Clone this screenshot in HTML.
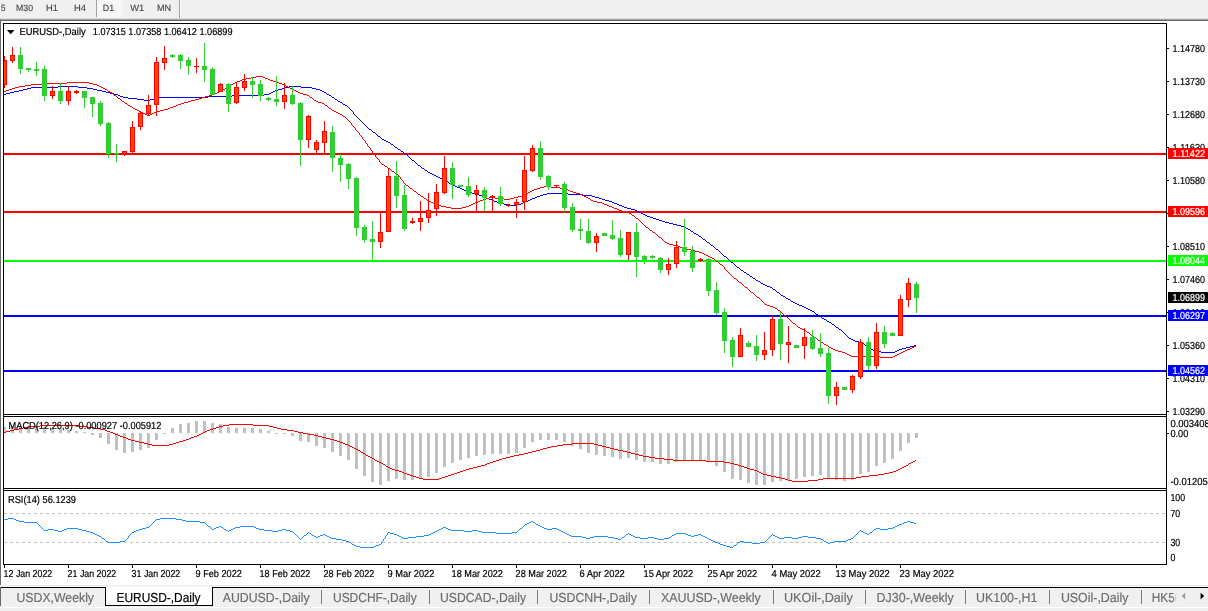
<!DOCTYPE html>
<html lang="en"><head><meta charset="utf-8"><title>EURUSD-,Daily</title>
<style>
html,body{margin:0;padding:0;background:#fff;overflow:hidden}
body{width:1208px;height:611px;position:relative;font-family:"Liberation Sans",sans-serif}
svg{position:absolute;left:0;top:0;display:block}
text{text-rendering:geometricPrecision}
.s{font-family:"Liberation Sans",sans-serif;font-size:10.2px;fill:#000;stroke:#000;stroke-width:.2px}
.t{font-family:"Liberation Sans",sans-serif;font-size:13.1px;fill:#6e6e6e;stroke:#6e6e6e;stroke-width:.2px}
.tb{font-family:"Liberation Sans",sans-serif;font-size:9px;fill:#4a4a4a;stroke:#4a4a4a;stroke-width:.15px}
</style></head><body>
<svg width="1208" height="611" viewBox="0 0 1208 611">
<g shape-rendering="crispEdges">
<rect x="0" y="0" width="1208" height="611" fill="#ffffff"/>
<rect x="0" y="0" width="1208" height="18" fill="#f0f0f0"/>
<rect x="0" y="18" width="1208" height="1" fill="#dedede"/>
<rect x="0" y="19" width="1208" height="1" fill="#a0a0a0"/>
<rect x="0" y="20" width="1208" height="1" fill="#696969"/>
<rect x="97" y="0" width="25" height="17" fill="#f7f7f7"/>
<rect x="96" y="0" width="1" height="17" fill="#a0a0a0"/>
<rect x="179" y="0" width="1" height="18" fill="#a0a0a0"/>
<rect x="180" y="0" width="1" height="18" fill="#ffffff"/>
<rect x="0" y="21" width="1" height="564" fill="#696969"/>
<rect x="0" y="585" width="1208" height="26" fill="#f0f0f0"/>
<rect x="0" y="585" width="1208" height="1" fill="#ebebeb"/>
<rect x="0" y="586" width="1208" height="1" fill="#f8f8f8"/>
<rect x="0" y="607" width="1208" height="1" fill="#ffffff"/>
</g>
<g shape-rendering="crispEdges" fill="#000">
<rect x="3" y="23" width="1164" height="1"/>
<rect x="3" y="23" width="1" height="542"/>
<rect x="1166" y="23" width="1" height="542"/>
<rect x="3" y="414" width="1164" height="1"/>
<rect x="3" y="416" width="1164" height="1"/>
<rect x="3" y="488" width="1164" height="1"/>
<rect x="3" y="490" width="1164" height="1"/>
<rect x="3" y="564" width="1164" height="1"/>
<rect x="1167" y="48" width="2" height="1"/>
<rect x="1167" y="81" width="2" height="1"/>
<rect x="1167" y="114" width="2" height="1"/>
<rect x="1167" y="147" width="2" height="1"/>
<rect x="1167" y="180" width="2" height="1"/>
<rect x="1167" y="213" width="2" height="1"/>
<rect x="1167" y="246" width="2" height="1"/>
<rect x="1167" y="279" width="2" height="1"/>
<rect x="1167" y="312" width="2" height="1"/>
<rect x="1167" y="345" width="2" height="1"/>
<rect x="1167" y="378" width="2" height="1"/>
<rect x="1167" y="411" width="2" height="1"/>
<rect x="1167" y="433" width="2" height="1"/>
<rect x="4" y="565" width="1" height="3"/>
<rect x="68" y="565" width="1" height="3"/>
<rect x="132" y="565" width="1" height="3"/>
<rect x="196" y="565" width="1" height="3"/>
<rect x="260" y="565" width="1" height="3"/>
<rect x="324" y="565" width="1" height="3"/>
<rect x="388" y="565" width="1" height="3"/>
<rect x="452" y="565" width="1" height="3"/>
<rect x="516" y="565" width="1" height="3"/>
<rect x="580" y="565" width="1" height="3"/>
<rect x="644" y="565" width="1" height="3"/>
<rect x="708" y="565" width="1" height="3"/>
<rect x="772" y="565" width="1" height="3"/>
<rect x="836" y="565" width="1" height="3"/>
<rect x="900" y="565" width="1" height="3"/>
</g>
<g shape-rendering="crispEdges" fill="#C0C0C0">
<path d="M4 513h3v1h-3zM10 513h3v1h-3zM16 513h3v1h-3zM22 513h3v1h-3zM28 513h3v1h-3zM34 513h3v1h-3zM40 513h3v1h-3zM46 513h3v1h-3zM52 513h3v1h-3zM58 513h3v1h-3zM64 513h3v1h-3zM70 513h3v1h-3zM76 513h3v1h-3zM82 513h3v1h-3zM88 513h3v1h-3zM94 513h3v1h-3zM100 513h3v1h-3zM106 513h3v1h-3zM112 513h3v1h-3zM118 513h3v1h-3zM124 513h3v1h-3zM130 513h3v1h-3zM136 513h3v1h-3zM142 513h3v1h-3zM148 513h3v1h-3zM154 513h3v1h-3zM160 513h3v1h-3zM166 513h3v1h-3zM172 513h3v1h-3zM178 513h3v1h-3zM184 513h3v1h-3zM190 513h3v1h-3zM196 513h3v1h-3zM202 513h3v1h-3zM208 513h3v1h-3zM214 513h3v1h-3zM220 513h3v1h-3zM226 513h3v1h-3zM232 513h3v1h-3zM238 513h3v1h-3zM244 513h3v1h-3zM250 513h3v1h-3zM256 513h3v1h-3zM262 513h3v1h-3zM268 513h3v1h-3zM274 513h3v1h-3zM280 513h3v1h-3zM286 513h3v1h-3zM292 513h3v1h-3zM298 513h3v1h-3zM304 513h3v1h-3zM310 513h3v1h-3zM316 513h3v1h-3zM322 513h3v1h-3zM328 513h3v1h-3zM334 513h3v1h-3zM340 513h3v1h-3zM346 513h3v1h-3zM352 513h3v1h-3zM358 513h3v1h-3zM364 513h3v1h-3zM370 513h3v1h-3zM376 513h3v1h-3zM382 513h3v1h-3zM388 513h3v1h-3zM394 513h3v1h-3zM400 513h3v1h-3zM406 513h3v1h-3zM412 513h3v1h-3zM418 513h3v1h-3zM424 513h3v1h-3zM430 513h3v1h-3zM436 513h3v1h-3zM442 513h3v1h-3zM448 513h3v1h-3zM454 513h3v1h-3zM460 513h3v1h-3zM466 513h3v1h-3zM472 513h3v1h-3zM478 513h3v1h-3zM484 513h3v1h-3zM490 513h3v1h-3zM496 513h3v1h-3zM502 513h3v1h-3zM508 513h3v1h-3zM514 513h3v1h-3zM520 513h3v1h-3zM526 513h3v1h-3zM532 513h3v1h-3zM538 513h3v1h-3zM544 513h3v1h-3zM550 513h3v1h-3zM556 513h3v1h-3zM562 513h3v1h-3zM568 513h3v1h-3zM574 513h3v1h-3zM580 513h3v1h-3zM586 513h3v1h-3zM592 513h3v1h-3zM598 513h3v1h-3zM604 513h3v1h-3zM610 513h3v1h-3zM616 513h3v1h-3zM622 513h3v1h-3zM628 513h3v1h-3zM634 513h3v1h-3zM640 513h3v1h-3zM646 513h3v1h-3zM652 513h3v1h-3zM658 513h3v1h-3zM664 513h3v1h-3zM670 513h3v1h-3zM676 513h3v1h-3zM682 513h3v1h-3zM688 513h3v1h-3zM694 513h3v1h-3zM700 513h3v1h-3zM706 513h3v1h-3zM712 513h3v1h-3zM718 513h3v1h-3zM724 513h3v1h-3zM730 513h3v1h-3zM736 513h3v1h-3zM742 513h3v1h-3zM748 513h3v1h-3zM754 513h3v1h-3zM760 513h3v1h-3zM766 513h3v1h-3zM772 513h3v1h-3zM778 513h3v1h-3zM784 513h3v1h-3zM790 513h3v1h-3zM796 513h3v1h-3zM802 513h3v1h-3zM808 513h3v1h-3zM814 513h3v1h-3zM820 513h3v1h-3zM826 513h3v1h-3zM832 513h3v1h-3zM838 513h3v1h-3zM844 513h3v1h-3zM850 513h3v1h-3zM856 513h3v1h-3zM862 513h3v1h-3zM868 513h3v1h-3zM874 513h3v1h-3zM880 513h3v1h-3zM886 513h3v1h-3zM892 513h3v1h-3zM898 513h3v1h-3zM904 513h3v1h-3zM910 513h3v1h-3zM916 513h3v1h-3zM922 513h3v1h-3zM928 513h3v1h-3zM934 513h3v1h-3zM940 513h3v1h-3zM946 513h3v1h-3zM952 513h3v1h-3zM958 513h3v1h-3zM964 513h3v1h-3zM970 513h3v1h-3zM976 513h3v1h-3zM982 513h3v1h-3zM988 513h3v1h-3zM994 513h3v1h-3zM1000 513h3v1h-3zM1006 513h3v1h-3zM1012 513h3v1h-3zM1018 513h3v1h-3zM1024 513h3v1h-3zM1030 513h3v1h-3zM1036 513h3v1h-3zM1042 513h3v1h-3zM1048 513h3v1h-3zM1054 513h3v1h-3zM1060 513h3v1h-3zM1066 513h3v1h-3zM1072 513h3v1h-3zM1078 513h3v1h-3zM1084 513h3v1h-3zM1090 513h3v1h-3zM1096 513h3v1h-3zM1102 513h3v1h-3zM1108 513h3v1h-3zM1114 513h3v1h-3zM1120 513h3v1h-3zM1126 513h3v1h-3zM1132 513h3v1h-3zM1138 513h3v1h-3zM1144 513h3v1h-3zM1150 513h3v1h-3zM1156 513h3v1h-3zM1162 513h3v1h-3z"/>
<path d="M4 542h3v1h-3zM10 542h3v1h-3zM16 542h3v1h-3zM22 542h3v1h-3zM28 542h3v1h-3zM34 542h3v1h-3zM40 542h3v1h-3zM46 542h3v1h-3zM52 542h3v1h-3zM58 542h3v1h-3zM64 542h3v1h-3zM70 542h3v1h-3zM76 542h3v1h-3zM82 542h3v1h-3zM88 542h3v1h-3zM94 542h3v1h-3zM100 542h3v1h-3zM106 542h3v1h-3zM112 542h3v1h-3zM118 542h3v1h-3zM124 542h3v1h-3zM130 542h3v1h-3zM136 542h3v1h-3zM142 542h3v1h-3zM148 542h3v1h-3zM154 542h3v1h-3zM160 542h3v1h-3zM166 542h3v1h-3zM172 542h3v1h-3zM178 542h3v1h-3zM184 542h3v1h-3zM190 542h3v1h-3zM196 542h3v1h-3zM202 542h3v1h-3zM208 542h3v1h-3zM214 542h3v1h-3zM220 542h3v1h-3zM226 542h3v1h-3zM232 542h3v1h-3zM238 542h3v1h-3zM244 542h3v1h-3zM250 542h3v1h-3zM256 542h3v1h-3zM262 542h3v1h-3zM268 542h3v1h-3zM274 542h3v1h-3zM280 542h3v1h-3zM286 542h3v1h-3zM292 542h3v1h-3zM298 542h3v1h-3zM304 542h3v1h-3zM310 542h3v1h-3zM316 542h3v1h-3zM322 542h3v1h-3zM328 542h3v1h-3zM334 542h3v1h-3zM340 542h3v1h-3zM346 542h3v1h-3zM352 542h3v1h-3zM358 542h3v1h-3zM364 542h3v1h-3zM370 542h3v1h-3zM376 542h3v1h-3zM382 542h3v1h-3zM388 542h3v1h-3zM394 542h3v1h-3zM400 542h3v1h-3zM406 542h3v1h-3zM412 542h3v1h-3zM418 542h3v1h-3zM424 542h3v1h-3zM430 542h3v1h-3zM436 542h3v1h-3zM442 542h3v1h-3zM448 542h3v1h-3zM454 542h3v1h-3zM460 542h3v1h-3zM466 542h3v1h-3zM472 542h3v1h-3zM478 542h3v1h-3zM484 542h3v1h-3zM490 542h3v1h-3zM496 542h3v1h-3zM502 542h3v1h-3zM508 542h3v1h-3zM514 542h3v1h-3zM520 542h3v1h-3zM526 542h3v1h-3zM532 542h3v1h-3zM538 542h3v1h-3zM544 542h3v1h-3zM550 542h3v1h-3zM556 542h3v1h-3zM562 542h3v1h-3zM568 542h3v1h-3zM574 542h3v1h-3zM580 542h3v1h-3zM586 542h3v1h-3zM592 542h3v1h-3zM598 542h3v1h-3zM604 542h3v1h-3zM610 542h3v1h-3zM616 542h3v1h-3zM622 542h3v1h-3zM628 542h3v1h-3zM634 542h3v1h-3zM640 542h3v1h-3zM646 542h3v1h-3zM652 542h3v1h-3zM658 542h3v1h-3zM664 542h3v1h-3zM670 542h3v1h-3zM676 542h3v1h-3zM682 542h3v1h-3zM688 542h3v1h-3zM694 542h3v1h-3zM700 542h3v1h-3zM706 542h3v1h-3zM712 542h3v1h-3zM718 542h3v1h-3zM724 542h3v1h-3zM730 542h3v1h-3zM736 542h3v1h-3zM742 542h3v1h-3zM748 542h3v1h-3zM754 542h3v1h-3zM760 542h3v1h-3zM766 542h3v1h-3zM772 542h3v1h-3zM778 542h3v1h-3zM784 542h3v1h-3zM790 542h3v1h-3zM796 542h3v1h-3zM802 542h3v1h-3zM808 542h3v1h-3zM814 542h3v1h-3zM820 542h3v1h-3zM826 542h3v1h-3zM832 542h3v1h-3zM838 542h3v1h-3zM844 542h3v1h-3zM850 542h3v1h-3zM856 542h3v1h-3zM862 542h3v1h-3zM868 542h3v1h-3zM874 542h3v1h-3zM880 542h3v1h-3zM886 542h3v1h-3zM892 542h3v1h-3zM898 542h3v1h-3zM904 542h3v1h-3zM910 542h3v1h-3zM916 542h3v1h-3zM922 542h3v1h-3zM928 542h3v1h-3zM934 542h3v1h-3zM940 542h3v1h-3zM946 542h3v1h-3zM952 542h3v1h-3zM958 542h3v1h-3zM964 542h3v1h-3zM970 542h3v1h-3zM976 542h3v1h-3zM982 542h3v1h-3zM988 542h3v1h-3zM994 542h3v1h-3zM1000 542h3v1h-3zM1006 542h3v1h-3zM1012 542h3v1h-3zM1018 542h3v1h-3zM1024 542h3v1h-3zM1030 542h3v1h-3zM1036 542h3v1h-3zM1042 542h3v1h-3zM1048 542h3v1h-3zM1054 542h3v1h-3zM1060 542h3v1h-3zM1066 542h3v1h-3zM1072 542h3v1h-3zM1078 542h3v1h-3zM1084 542h3v1h-3zM1090 542h3v1h-3zM1096 542h3v1h-3zM1102 542h3v1h-3zM1108 542h3v1h-3zM1114 542h3v1h-3zM1120 542h3v1h-3zM1126 542h3v1h-3zM1132 542h3v1h-3zM1138 542h3v1h-3zM1144 542h3v1h-3zM1150 542h3v1h-3zM1156 542h3v1h-3zM1162 542h3v1h-3z"/>
</g>
<g shape-rendering="crispEdges" fill="#C0C0C0">
<path d="M4 427h2v6h-2zM11 426h3v7h-3zM19 427h3v6h-3zM27 426h3v7h-3zM35 426h3v7h-3zM43 427h3v6h-3zM51 428h3v5h-3zM59 429h3v4h-3zM67 430h3v3h-3zM75 431h3v2h-3zM83 432h3v1h-3zM91 433h3v2h-3zM99 433h3v5h-3zM107 433h3v11h-3zM115 433h3v17h-3zM123 433h3v20h-3zM131 433h3v19h-3zM139 433h3v17h-3zM147 433h3v15h-3zM155 433h3v7h-3zM163 433h3v1h-3zM171 428h3v5h-3zM179 424h3v9h-3zM187 423h3v10h-3zM195 421h3v12h-3zM203 421h3v12h-3zM211 423h3v10h-3zM219 424h3v9h-3zM227 427h3v6h-3zM235 428h3v5h-3zM243 428h3v5h-3zM251 428h3v5h-3zM259 429h3v4h-3zM267 431h3v2h-3zM275 433h3v1h-3zM283 433h3v1h-3zM291 433h3v3h-3zM299 433h3v8h-3zM307 433h3v9h-3zM315 433h3v13h-3zM323 433h3v15h-3zM331 433h3v19h-3zM339 433h3v23h-3zM347 433h3v27h-3zM355 433h3v36h-3zM363 433h3v43h-3zM371 433h3v49h-3zM379 433h3v52h-3zM387 433h3v48h-3zM395 433h3v46h-3zM403 433h3v47h-3zM411 433h3v47h-3zM419 433h3v45h-3zM427 433h3v44h-3zM435 433h3v40h-3zM443 433h3v34h-3zM451 433h3v30h-3zM459 433h3v27h-3zM467 433h3v25h-3zM475 433h3v23h-3zM483 433h3v22h-3zM491 433h3v21h-3zM499 433h3v21h-3zM507 433h3v21h-3zM515 433h3v20h-3zM523 433h3v15h-3zM531 433h3v9h-3zM539 433h3v7h-3zM547 433h3v7h-3zM555 433h3v7h-3zM563 433h3v9h-3zM571 433h3v13h-3zM579 433h3v16h-3zM587 433h3v20h-3zM595 433h3v22h-3zM603 433h3v23h-3zM611 433h3v24h-3zM619 433h3v26h-3zM627 433h3v25h-3zM635 433h3v27h-3zM643 433h3v29h-3zM651 433h3v29h-3zM659 433h3v31h-3zM667 433h3v31h-3zM675 433h3v29h-3zM683 433h3v27h-3zM691 433h3v27h-3zM699 433h3v27h-3zM707 433h3v29h-3zM715 433h3v33h-3zM723 433h3v39h-3zM731 433h3v46h-3zM739 433h3v47h-3zM747 433h3v50h-3zM755 433h3v52h-3zM763 433h3v52h-3zM771 433h3v49h-3zM779 433h3v48h-3zM787 433h3v47h-3zM795 433h3v46h-3zM803 433h3v44h-3zM811 433h3v43h-3zM819 433h3v42h-3zM827 433h3v45h-3zM835 433h3v47h-3zM843 433h3v48h-3zM851 433h3v47h-3zM859 433h3v41h-3zM867 433h3v39h-3zM875 433h3v33h-3zM883 433h3v30h-3zM891 433h3v26h-3zM899 433h3v18h-3zM907 433h3v10h-3zM915 433h3v5h-3z"/>
</g>
<path fill="#FF0000" shape-rendering="crispEdges" d="M229 424h24v1h-24zM40 425h39v1h-39zM223 425h6v1h-6zM253 425h16v1h-16zM28 426h12v1h-12zM79 426h8v1h-8zM219 426h4v1h-4zM269 426h4v1h-4zM23 427h5v1h-5zM87 427h7v1h-7zM216 427h3v1h-3zM273 427h4v1h-4zM19 428h4v1h-4zM94 428h6v1h-6zM213 428h3v1h-3zM277 428h4v1h-4zM14 429h5v1h-5zM100 429h5v1h-5zM210 429h3v1h-3zM281 429h6v1h-6zM10 430h4v1h-4zM105 430h2v1h-2zM207 430h3v1h-3zM287 430h7v1h-7zM6 431h4v1h-4zM107 431h3v1h-3zM205 431h2v1h-2zM294 431h4v1h-4zM4 432h2v1h-2zM110 432h3v1h-3zM203 432h2v1h-2zM298 432h5v1h-5zM113 433h2v1h-2zM201 433h2v1h-2zM303 433h5v1h-5zM115 434h3v1h-3zM199 434h2v1h-2zM308 434h6v1h-6zM118 435h2v1h-2zM197 435h2v1h-2zM314 435h4v1h-4zM120 436h3v1h-3zM194 436h3v1h-3zM318 436h4v1h-4zM123 437h3v1h-3zM191 437h3v1h-3zM322 437h4v1h-4zM126 438h2v1h-2zM189 438h2v1h-2zM326 438h4v1h-4zM128 439h3v1h-3zM186 439h3v1h-3zM330 439h4v1h-4zM131 440h4v1h-4zM183 440h3v1h-3zM334 440h3v1h-3zM135 441h4v1h-4zM179 441h4v1h-4zM337 441h3v1h-3zM139 442h5v1h-5zM176 442h3v1h-3zM340 442h3v1h-3zM144 443h4v1h-4zM173 443h3v1h-3zM343 443h2v1h-2zM572 443h22v1h-22zM148 444h4v1h-4zM169 444h4v1h-4zM345 444h3v1h-3zM563 444h9v1h-9zM594 444h4v1h-4zM152 445h17v1h-17zM348 445h2v1h-2zM557 445h6v1h-6zM598 445h4v1h-4zM350 446h2v1h-2zM551 446h6v1h-6zM602 446h4v1h-4zM352 447h2v1h-2zM547 447h4v1h-4zM606 447h4v1h-4zM354 448h2v1h-2zM543 448h4v1h-4zM610 448h4v1h-4zM356 449h2v1h-2zM540 449h3v1h-3zM614 449h4v1h-4zM358 450h2v1h-2zM536 450h4v1h-4zM618 450h5v1h-5zM360 451h1v1h-1zM532 451h4v1h-4zM623 451h4v1h-4zM361 452h2v1h-2zM528 452h4v1h-4zM627 452h4v1h-4zM363 453h2v1h-2zM524 453h4v1h-4zM631 453h4v1h-4zM365 454h1v1h-1zM519 454h5v1h-5zM635 454h4v1h-4zM366 455h2v1h-2zM514 455h5v1h-5zM639 455h4v1h-4zM368 456h2v1h-2zM510 456h4v1h-4zM643 456h6v1h-6zM370 457h2v1h-2zM506 457h4v1h-4zM649 457h6v1h-6zM372 458h2v1h-2zM502 458h4v1h-4zM655 458h9v1h-9zM374 459h1v1h-1zM499 459h3v1h-3zM664 459h9v1h-9zM375 460h2v1h-2zM496 460h3v1h-3zM673 460h33v1h-33zM915 460h1v1h-1zM377 461h2v1h-2zM493 461h3v1h-3zM706 461h18v1h-18zM913 461h2v1h-2zM379 462h2v1h-2zM490 462h3v1h-3zM724 462h6v1h-6zM911 462h2v1h-2zM381 463h2v1h-2zM487 463h3v1h-3zM730 463h4v1h-4zM909 463h2v1h-2zM383 464h2v1h-2zM485 464h2v1h-2zM734 464h4v1h-4zM908 464h1v1h-1zM385 465h1v1h-1zM481 465h4v1h-4zM738 465h3v1h-3zM906 465h2v1h-2zM386 466h2v1h-2zM477 466h4v1h-4zM741 466h3v1h-3zM904 466h2v1h-2zM388 467h2v1h-2zM473 467h4v1h-4zM744 467h3v1h-3zM902 467h2v1h-2zM390 468h2v1h-2zM469 468h4v1h-4zM747 468h3v1h-3zM900 468h2v1h-2zM392 469h3v1h-3zM466 469h3v1h-3zM750 469h4v1h-4zM898 469h2v1h-2zM395 470h4v1h-4zM463 470h3v1h-3zM754 470h3v1h-3zM896 470h2v1h-2zM399 471h3v1h-3zM460 471h3v1h-3zM757 471h2v1h-2zM893 471h3v1h-3zM402 472h2v1h-2zM457 472h3v1h-3zM759 472h2v1h-2zM889 472h4v1h-4zM404 473h3v1h-3zM454 473h3v1h-3zM761 473h2v1h-2zM884 473h5v1h-5zM407 474h3v1h-3zM451 474h3v1h-3zM763 474h4v1h-4zM878 474h6v1h-6zM410 475h3v1h-3zM448 475h3v1h-3zM767 475h4v1h-4zM869 475h9v1h-9zM413 476h3v1h-3zM445 476h3v1h-3zM771 476h5v1h-5zM861 476h8v1h-8zM416 477h3v1h-3zM442 477h3v1h-3zM776 477h5v1h-5zM856 477h5v1h-5zM419 478h4v1h-4zM439 478h3v1h-3zM781 478h4v1h-4zM823 478h33v1h-33zM423 479h16v1h-16zM785 479h3v1h-3zM818 479h5v1h-5zM788 480h4v1h-4zM808 480h10v1h-10zM792 481h16v1h-16z"/>
<path fill="#1E90FF" shape-rendering="crispEdges" d="M8 518h6v1h-6zM160 518h16v1h-16zM4 519h4v1h-4zM14 519h2v1h-2zM156 519h4v1h-4zM176 519h6v1h-6zM16 520h3v1h-3zM155 520h1v1h-1zM182 520h4v1h-4zM19 521h5v1h-5zM154 521h1v1h-1zM186 521h14v1h-14zM531 521h2v1h-2zM907 521h3v1h-3zM24 522h13v1h-13zM153 522h1v1h-1zM200 522h5v1h-5zM529 522h2v1h-2zM533 522h2v1h-2zM904 522h3v1h-3zM910 522h4v1h-4zM37 523h1v1h-1zM152 523h1v1h-1zM205 523h1v1h-1zM527 523h2v1h-2zM535 523h1v1h-1zM902 523h2v1h-2zM914 523h2v1h-2zM38 524h1v1h-1zM151 524h1v1h-1zM206 524h1v1h-1zM525 524h2v1h-2zM536 524h2v1h-2zM899 524h3v1h-3zM39 525h1v1h-1zM150 525h1v1h-1zM207 525h1v1h-1zM524 525h1v1h-1zM538 525h2v1h-2zM897 525h2v1h-2zM40 526h1v1h-1zM149 526h1v1h-1zM208 526h2v1h-2zM219 526h2v1h-2zM240 526h14v1h-14zM523 526h1v1h-1zM540 526h2v1h-2zM895 526h2v1h-2zM41 527h1v1h-1zM146 527h3v1h-3zM210 527h1v1h-1zM216 527h3v1h-3zM221 527h2v1h-2zM235 527h5v1h-5zM254 527h2v1h-2zM443 527h3v1h-3zM522 527h1v1h-1zM542 527h2v1h-2zM893 527h2v1h-2zM42 528h1v1h-1zM67 528h11v1h-11zM142 528h4v1h-4zM211 528h1v1h-1zM214 528h2v1h-2zM223 528h1v1h-1zM233 528h2v1h-2zM256 528h3v1h-3zM441 528h2v1h-2zM446 528h2v1h-2zM520 528h2v1h-2zM544 528h3v1h-3zM552 528h5v1h-5zM876 528h4v1h-4zM888 528h5v1h-5zM43 529h1v1h-1zM48 529h6v1h-6zM64 529h3v1h-3zM78 529h4v1h-4zM139 529h3v1h-3zM212 529h2v1h-2zM224 529h2v1h-2zM231 529h2v1h-2zM259 529h5v1h-5zM282 529h4v1h-4zM439 529h2v1h-2zM448 529h3v1h-3zM519 529h1v1h-1zM547 529h5v1h-5zM557 529h2v1h-2zM874 529h2v1h-2zM880 529h8v1h-8zM44 530h4v1h-4zM54 530h4v1h-4zM62 530h2v1h-2zM82 530h4v1h-4zM136 530h3v1h-3zM226 530h2v1h-2zM229 530h2v1h-2zM264 530h8v1h-8zM278 530h4v1h-4zM286 530h4v1h-4zM437 530h2v1h-2zM451 530h13v1h-13zM472 530h6v1h-6zM518 530h1v1h-1zM559 530h2v1h-2zM860 530h1v1h-1zM873 530h1v1h-1zM58 531h4v1h-4zM86 531h4v1h-4zM134 531h2v1h-2zM228 531h1v1h-1zM272 531h6v1h-6zM290 531h3v1h-3zM435 531h2v1h-2zM464 531h8v1h-8zM478 531h4v1h-4zM517 531h1v1h-1zM561 531h2v1h-2zM859 531h1v1h-1zM861 531h2v1h-2zM872 531h1v1h-1zM90 532h3v1h-3zM132 532h2v1h-2zM293 532h1v1h-1zM308 532h1v1h-1zM388 532h2v1h-2zM433 532h2v1h-2zM482 532h14v1h-14zM512 532h5v1h-5zM563 532h2v1h-2zM858 532h1v1h-1zM863 532h2v1h-2zM870 532h2v1h-2zM93 533h2v1h-2zM131 533h1v1h-1zM294 533h1v1h-1zM307 533h1v1h-1zM309 533h2v1h-2zM387 533h1v1h-1zM390 533h4v1h-4zM431 533h2v1h-2zM496 533h16v1h-16zM565 533h2v1h-2zM628 533h1v1h-1zM676 533h10v1h-10zM857 533h1v1h-1zM865 533h2v1h-2zM869 533h1v1h-1zM95 534h2v1h-2zM130 534h1v1h-1zM295 534h1v1h-1zM306 534h1v1h-1zM311 534h1v1h-1zM323 534h2v1h-2zM387 534h1v1h-1zM394 534h3v1h-3zM429 534h2v1h-2zM567 534h2v1h-2zM626 534h2v1h-2zM629 534h2v1h-2zM674 534h2v1h-2zM686 534h2v1h-2zM698 534h3v1h-3zM772 534h1v1h-1zM856 534h1v1h-1zM867 534h2v1h-2zM97 535h2v1h-2zM129 535h1v1h-1zM296 535h1v1h-1zM304 535h2v1h-2zM312 535h2v1h-2zM320 535h3v1h-3zM325 535h2v1h-2zM386 535h1v1h-1zM397 535h2v1h-2zM424 535h5v1h-5zM569 535h2v1h-2zM625 535h1v1h-1zM631 535h2v1h-2zM672 535h2v1h-2zM688 535h3v1h-3zM694 535h4v1h-4zM701 535h2v1h-2zM771 535h1v1h-1zM773 535h2v1h-2zM855 535h1v1h-1zM99 536h2v1h-2zM128 536h1v1h-1zM297 536h1v1h-1zM303 536h1v1h-1zM314 536h2v1h-2zM318 536h2v1h-2zM327 536h2v1h-2zM385 536h1v1h-1zM399 536h2v1h-2zM416 536h8v1h-8zM571 536h11v1h-11zM594 536h14v1h-14zM624 536h1v1h-1zM633 536h2v1h-2zM671 536h1v1h-1zM691 536h3v1h-3zM703 536h2v1h-2zM770 536h1v1h-1zM775 536h2v1h-2zM802 536h6v1h-6zM854 536h1v1h-1zM101 537h1v1h-1zM128 537h1v1h-1zM298 537h1v1h-1zM302 537h1v1h-1zM316 537h2v1h-2zM329 537h2v1h-2zM385 537h1v1h-1zM401 537h2v1h-2zM408 537h8v1h-8zM582 537h4v1h-4zM590 537h4v1h-4zM608 537h6v1h-6zM622 537h2v1h-2zM635 537h5v1h-5zM648 537h6v1h-6zM669 537h2v1h-2zM705 537h2v1h-2zM769 537h1v1h-1zM777 537h2v1h-2zM784 537h8v1h-8zM798 537h4v1h-4zM808 537h8v1h-8zM853 537h1v1h-1zM102 538h2v1h-2zM127 538h1v1h-1zM299 538h1v1h-1zM301 538h1v1h-1zM331 538h5v1h-5zM384 538h1v1h-1zM403 538h5v1h-5zM586 538h4v1h-4zM614 538h4v1h-4zM621 538h1v1h-1zM640 538h8v1h-8zM654 538h4v1h-4zM664 538h5v1h-5zM707 538h2v1h-2zM768 538h1v1h-1zM779 538h5v1h-5zM792 538h6v1h-6zM816 538h5v1h-5zM851 538h2v1h-2zM104 539h1v1h-1zM126 539h1v1h-1zM300 539h1v1h-1zM336 539h6v1h-6zM383 539h1v1h-1zM618 539h3v1h-3zM658 539h6v1h-6zM709 539h2v1h-2zM767 539h1v1h-1zM821 539h2v1h-2zM848 539h3v1h-3zM105 540h1v1h-1zM125 540h1v1h-1zM342 540h4v1h-4zM383 540h1v1h-1zM711 540h2v1h-2zM766 540h1v1h-1zM823 540h1v1h-1zM846 540h2v1h-2zM106 541h2v1h-2zM120 541h5v1h-5zM346 541h3v1h-3zM382 541h1v1h-1zM713 541h2v1h-2zM740 541h4v1h-4zM765 541h1v1h-1zM824 541h2v1h-2zM834 541h12v1h-12zM108 542h12v1h-12zM349 542h2v1h-2zM381 542h1v1h-1zM715 542h3v1h-3zM738 542h2v1h-2zM744 542h8v1h-8zM760 542h5v1h-5zM826 542h2v1h-2zM830 542h4v1h-4zM351 543h1v1h-1zM381 543h1v1h-1zM718 543h2v1h-2zM737 543h1v1h-1zM752 543h8v1h-8zM828 543h2v1h-2zM352 544h2v1h-2zM379 544h2v1h-2zM720 544h3v1h-3zM736 544h1v1h-1zM354 545h2v1h-2zM376 545h3v1h-3zM723 545h3v1h-3zM734 545h2v1h-2zM356 546h4v1h-4zM374 546h2v1h-2zM726 546h4v1h-4zM733 546h1v1h-1zM360 547h14v1h-14zM730 547h3v1h-3z"/>
<g shape-rendering="crispEdges">
<rect x="4" y="153" width="1162" height="2" fill="#FF0000"/>
<rect x="4" y="211" width="1162" height="2" fill="#FF0000"/>
<rect x="4" y="260" width="1162" height="2" fill="#00FF00"/>
<rect x="4" y="315" width="1162" height="2" fill="#0000FF"/>
<rect x="4" y="370" width="1162" height="2" fill="#0000FF"/>
</g>
<path fill="#0000FF" shape-rendering="crispEdges" d="M58 86h20v1h-20zM289 86h12v1h-12zM31 87h27v1h-27zM78 87h9v1h-9zM285 87h4v1h-4zM301 87h11v1h-11zM27 88h4v1h-4zM87 88h6v1h-6zM282 88h3v1h-3zM312 88h4v1h-4zM23 89h4v1h-4zM93 89h4v1h-4zM278 89h4v1h-4zM316 89h4v1h-4zM19 90h4v1h-4zM97 90h5v1h-5zM275 90h3v1h-3zM320 90h2v1h-2zM14 91h5v1h-5zM102 91h4v1h-4zM273 91h2v1h-2zM322 91h2v1h-2zM10 92h4v1h-4zM106 92h4v1h-4zM271 92h2v1h-2zM324 92h2v1h-2zM6 93h4v1h-4zM110 93h4v1h-4zM269 93h2v1h-2zM326 93h1v1h-1zM4 94h2v1h-2zM114 94h4v1h-4zM264 94h5v1h-5zM327 94h2v1h-2zM118 95h2v1h-2zM232 95h32v1h-32zM329 95h2v1h-2zM120 96h3v1h-3zM208 96h24v1h-24zM331 96h1v1h-1zM123 97h5v1h-5zM159 97h49v1h-49zM332 97h2v1h-2zM128 98h9v1h-9zM155 98h4v1h-4zM334 98h1v1h-1zM137 99h7v1h-7zM150 99h5v1h-5zM335 99h2v1h-2zM144 100h6v1h-6zM337 100h1v1h-1zM338 101h2v1h-2zM340 102h2v1h-2zM342 103h1v1h-1zM343 104h2v1h-2zM345 105h2v1h-2zM347 106h1v1h-1zM348 107h1v1h-1zM349 108h1v1h-1zM350 109h1v1h-1zM351 110h1v1h-1zM352 111h1v1h-1zM353 112h1v1h-1zM353 113h1v1h-1zM354 114h1v1h-1zM355 115h1v1h-1zM356 116h1v1h-1zM357 117h1v1h-1zM358 118h1v1h-1zM359 119h1v1h-1zM360 120h1v1h-1zM361 121h1v1h-1zM362 122h1v1h-1zM363 123h1v1h-1zM364 124h1v1h-1zM365 125h1v1h-1zM366 126h1v1h-1zM367 127h1v1h-1zM368 128h1v1h-1zM369 129h2v1h-2zM371 130h1v1h-1zM372 131h1v1h-1zM373 132h2v1h-2zM375 133h1v1h-1zM376 134h1v1h-1zM377 135h1v1h-1zM378 136h2v1h-2zM380 137h1v1h-1zM381 138h1v1h-1zM382 139h2v1h-2zM384 140h2v1h-2zM386 141h2v1h-2zM388 142h2v1h-2zM390 143h1v1h-1zM391 144h2v1h-2zM393 145h1v1h-1zM394 146h1v1h-1zM395 147h2v1h-2zM397 148h1v1h-1zM398 149h2v1h-2zM400 150h1v1h-1zM401 151h2v1h-2zM403 152h1v1h-1zM404 153h1v1h-1zM405 154h2v1h-2zM407 155h1v1h-1zM408 156h1v1h-1zM409 157h1v1h-1zM410 158h1v1h-1zM411 159h1v1h-1zM412 160h2v1h-2zM414 161h1v1h-1zM415 162h1v1h-1zM416 163h1v1h-1zM417 164h1v1h-1zM418 165h2v1h-2zM420 166h1v1h-1zM421 167h1v1h-1zM422 168h2v1h-2zM424 169h1v1h-1zM425 170h2v1h-2zM427 171h1v1h-1zM428 172h2v1h-2zM430 173h2v1h-2zM432 174h2v1h-2zM434 175h2v1h-2zM436 176h2v1h-2zM438 177h2v1h-2zM440 178h2v1h-2zM442 179h2v1h-2zM444 180h2v1h-2zM446 181h2v1h-2zM448 182h1v1h-1zM449 183h2v1h-2zM451 184h2v1h-2zM453 185h2v1h-2zM455 186h2v1h-2zM457 187h3v1h-3zM460 188h2v1h-2zM462 189h2v1h-2zM464 190h3v1h-3zM467 191h2v1h-2zM469 192h3v1h-3zM472 193h3v1h-3zM547 193h21v1h-21zM475 194h4v1h-4zM543 194h4v1h-4zM568 194h15v1h-15zM479 195h3v1h-3zM540 195h3v1h-3zM583 195h9v1h-9zM482 196h2v1h-2zM537 196h3v1h-3zM592 196h3v1h-3zM484 197h3v1h-3zM535 197h2v1h-2zM595 197h4v1h-4zM487 198h2v1h-2zM532 198h3v1h-3zM599 198h3v1h-3zM489 199h3v1h-3zM530 199h2v1h-2zM602 199h3v1h-3zM492 200h2v1h-2zM528 200h2v1h-2zM605 200h4v1h-4zM494 201h3v1h-3zM525 201h3v1h-3zM609 201h3v1h-3zM497 202h3v1h-3zM523 202h2v1h-2zM612 202h2v1h-2zM500 203h4v1h-4zM521 203h2v1h-2zM614 203h3v1h-3zM504 204h6v1h-6zM517 204h4v1h-4zM617 204h2v1h-2zM510 205h7v1h-7zM619 205h3v1h-3zM622 206h2v1h-2zM624 207h3v1h-3zM627 208h4v1h-4zM631 209h4v1h-4zM635 210h2v1h-2zM637 211h2v1h-2zM639 212h2v1h-2zM641 213h2v1h-2zM643 214h2v1h-2zM645 215h2v1h-2zM647 216h3v1h-3zM650 217h3v1h-3zM653 218h3v1h-3zM656 219h3v1h-3zM659 220h3v1h-3zM662 221h3v1h-3zM665 222h4v1h-4zM669 223h4v1h-4zM673 224h4v1h-4zM677 225h4v1h-4zM681 226h3v1h-3zM684 227h2v1h-2zM686 228h2v1h-2zM688 229h2v1h-2zM690 230h1v1h-1zM691 231h2v1h-2zM693 232h1v1h-1zM694 233h2v1h-2zM696 234h2v1h-2zM698 235h1v1h-1zM699 236h2v1h-2zM701 237h1v1h-1zM702 238h1v1h-1zM703 239h2v1h-2zM705 240h1v1h-1zM706 241h1v1h-1zM707 242h2v1h-2zM709 243h1v1h-1zM710 244h1v1h-1zM711 245h2v1h-2zM713 246h1v1h-1zM714 247h1v1h-1zM715 248h1v1h-1zM716 249h2v1h-2zM718 250h1v1h-1zM719 251h1v1h-1zM720 252h1v1h-1zM721 253h1v1h-1zM722 254h1v1h-1zM723 255h1v1h-1zM724 256h2v1h-2zM726 257h1v1h-1zM727 258h1v1h-1zM728 259h1v1h-1zM729 260h1v1h-1zM730 261h1v1h-1zM731 262h2v1h-2zM733 263h1v1h-1zM734 264h1v1h-1zM735 265h1v1h-1zM736 266h1v1h-1zM737 267h2v1h-2zM739 268h1v1h-1zM740 269h1v1h-1zM741 270h2v1h-2zM743 271h1v1h-1zM744 272h2v1h-2zM746 273h1v1h-1zM747 274h2v1h-2zM749 275h1v1h-1zM750 276h2v1h-2zM752 277h1v1h-1zM753 278h2v1h-2zM755 279h1v1h-1zM756 280h2v1h-2zM758 281h2v1h-2zM760 282h1v1h-1zM761 283h2v1h-2zM763 284h2v1h-2zM765 285h2v1h-2zM767 286h3v1h-3zM770 287h2v1h-2zM772 288h1v1h-1zM773 289h2v1h-2zM775 290h1v1h-1zM776 291h1v1h-1zM777 292h2v1h-2zM779 293h1v1h-1zM780 294h1v1h-1zM781 295h2v1h-2zM783 296h2v1h-2zM785 297h1v1h-1zM786 298h2v1h-2zM788 299h2v1h-2zM790 300h1v1h-1zM791 301h2v1h-2zM793 302h2v1h-2zM795 303h2v1h-2zM797 304h2v1h-2zM799 305h3v1h-3zM802 306h2v1h-2zM804 307h2v1h-2zM806 308h2v1h-2zM808 309h2v1h-2zM810 310h2v1h-2zM812 311h2v1h-2zM814 312h1v1h-1zM815 313h1v1h-1zM816 314h2v1h-2zM818 315h1v1h-1zM819 316h2v1h-2zM821 317h1v1h-1zM822 318h2v1h-2zM824 319h2v1h-2zM826 320h1v1h-1zM827 321h2v1h-2zM829 322h2v1h-2zM831 323h1v1h-1zM832 324h2v1h-2zM834 325h1v1h-1zM835 326h1v1h-1zM836 327h2v1h-2zM838 328h1v1h-1zM839 329h2v1h-2zM841 330h1v1h-1zM842 331h1v1h-1zM843 332h1v1h-1zM844 333h1v1h-1zM845 334h1v1h-1zM846 335h1v1h-1zM847 336h1v1h-1zM848 337h1v1h-1zM849 338h2v1h-2zM851 339h2v1h-2zM853 340h2v1h-2zM855 341h4v1h-4zM859 342h4v1h-4zM863 343h1v1h-1zM864 344h1v1h-1zM865 345h2v1h-2zM914 345h2v1h-2zM867 346h1v1h-1zM910 346h4v1h-4zM868 347h1v1h-1zM906 347h4v1h-4zM869 348h2v1h-2zM902 348h4v1h-4zM871 349h2v1h-2zM899 349h3v1h-3zM873 350h4v1h-4zM897 350h2v1h-2zM877 351h4v1h-4zM895 351h2v1h-2zM881 352h14v1h-14z"/>
<path fill="#FF0000" shape-rendering="crispEdges" d="M256 76h7v1h-7zM251 77h5v1h-5zM263 77h2v1h-2zM246 78h5v1h-5zM265 78h3v1h-3zM242 79h4v1h-4zM268 79h2v1h-2zM240 80h2v1h-2zM270 80h3v1h-3zM237 81h3v1h-3zM273 81h3v1h-3zM67 82h22v1h-22zM235 82h2v1h-2zM276 82h3v1h-3zM42 83h25v1h-25zM89 83h4v1h-4zM233 83h2v1h-2zM279 83h3v1h-3zM31 84h11v1h-11zM93 84h4v1h-4zM231 84h2v1h-2zM282 84h2v1h-2zM25 85h6v1h-6zM97 85h2v1h-2zM229 85h2v1h-2zM284 85h2v1h-2zM19 86h6v1h-6zM99 86h2v1h-2zM228 86h1v1h-1zM286 86h2v1h-2zM15 87h4v1h-4zM101 87h2v1h-2zM226 87h2v1h-2zM288 87h2v1h-2zM12 88h3v1h-3zM103 88h2v1h-2zM225 88h1v1h-1zM290 88h2v1h-2zM9 89h3v1h-3zM105 89h2v1h-2zM223 89h2v1h-2zM292 89h2v1h-2zM6 90h3v1h-3zM107 90h1v1h-1zM221 90h2v1h-2zM294 90h2v1h-2zM4 91h2v1h-2zM108 91h2v1h-2zM219 91h2v1h-2zM296 91h2v1h-2zM110 92h2v1h-2zM217 92h2v1h-2zM298 92h2v1h-2zM112 93h1v1h-1zM214 93h3v1h-3zM300 93h3v1h-3zM113 94h1v1h-1zM212 94h2v1h-2zM303 94h4v1h-4zM114 95h2v1h-2zM209 95h3v1h-3zM307 95h2v1h-2zM116 96h1v1h-1zM205 96h4v1h-4zM309 96h1v1h-1zM117 97h1v1h-1zM202 97h3v1h-3zM310 97h2v1h-2zM118 98h2v1h-2zM199 98h3v1h-3zM312 98h1v1h-1zM120 99h1v1h-1zM195 99h4v1h-4zM313 99h1v1h-1zM121 100h1v1h-1zM191 100h4v1h-4zM314 100h2v1h-2zM122 101h2v1h-2zM188 101h3v1h-3zM316 101h2v1h-2zM124 102h1v1h-1zM184 102h4v1h-4zM318 102h4v1h-4zM125 103h2v1h-2zM181 103h3v1h-3zM322 103h2v1h-2zM127 104h1v1h-1zM178 104h3v1h-3zM324 104h1v1h-1zM128 105h2v1h-2zM176 105h2v1h-2zM325 105h2v1h-2zM130 106h2v1h-2zM173 106h3v1h-3zM327 106h1v1h-1zM132 107h1v1h-1zM170 107h3v1h-3zM328 107h1v1h-1zM133 108h2v1h-2zM168 108h2v1h-2zM329 108h2v1h-2zM135 109h2v1h-2zM164 109h4v1h-4zM331 109h1v1h-1zM137 110h2v1h-2zM160 110h4v1h-4zM332 110h2v1h-2zM139 111h2v1h-2zM156 111h4v1h-4zM334 111h2v1h-2zM141 112h2v1h-2zM154 112h2v1h-2zM336 112h2v1h-2zM143 113h2v1h-2zM152 113h2v1h-2zM338 113h2v1h-2zM145 114h2v1h-2zM150 114h2v1h-2zM340 114h2v1h-2zM147 115h3v1h-3zM342 115h1v1h-1zM343 116h2v1h-2zM345 117h1v1h-1zM346 118h1v1h-1zM347 119h1v1h-1zM348 120h1v1h-1zM349 121h1v1h-1zM350 122h1v1h-1zM351 123h1v1h-1zM351 124h1v1h-1zM352 125h1v1h-1zM353 126h1v1h-1zM354 127h1v1h-1zM355 128h1v1h-1zM355 129h1v1h-1zM356 130h1v1h-1zM357 131h1v1h-1zM358 132h1v1h-1zM359 133h1v1h-1zM359 134h1v1h-1zM360 135h1v1h-1zM361 136h1v1h-1zM362 137h1v1h-1zM362 138h1v1h-1zM363 139h1v1h-1zM364 140h1v1h-1zM365 141h1v1h-1zM365 142h1v1h-1zM366 143h1v1h-1zM367 144h1v1h-1zM367 145h1v1h-1zM368 146h1v1h-1zM369 147h1v1h-1zM370 148h1v1h-1zM370 149h1v1h-1zM371 150h1v1h-1zM372 151h1v1h-1zM372 152h1v1h-1zM373 153h1v1h-1zM374 154h1v1h-1zM375 155h1v1h-1zM375 156h1v1h-1zM376 157h1v1h-1zM377 158h1v1h-1zM378 159h1v1h-1zM379 160h1v1h-1zM379 161h1v1h-1zM380 162h1v1h-1zM381 163h1v1h-1zM382 164h2v1h-2zM384 165h1v1h-1zM385 166h2v1h-2zM387 167h1v1h-1zM388 168h2v1h-2zM390 169h1v1h-1zM391 170h1v1h-1zM392 171h2v1h-2zM394 172h1v1h-1zM395 173h1v1h-1zM396 174h2v1h-2zM398 175h1v1h-1zM399 176h1v1h-1zM400 177h1v1h-1zM400 178h1v1h-1zM401 179h1v1h-1zM402 180h1v1h-1zM403 181h1v1h-1zM403 182h1v1h-1zM404 183h1v1h-1zM405 184h1v1h-1zM406 185h2v1h-2zM408 186h1v1h-1zM544 186h7v1h-7zM409 187h1v1h-1zM540 187h4v1h-4zM551 187h9v1h-9zM410 188h2v1h-2zM537 188h3v1h-3zM560 188h6v1h-6zM412 189h1v1h-1zM534 189h3v1h-3zM566 189h2v1h-2zM413 190h1v1h-1zM532 190h2v1h-2zM568 190h2v1h-2zM414 191h2v1h-2zM530 191h2v1h-2zM570 191h3v1h-3zM416 192h1v1h-1zM528 192h2v1h-2zM573 192h3v1h-3zM417 193h1v1h-1zM526 193h2v1h-2zM576 193h4v1h-4zM418 194h2v1h-2zM524 194h2v1h-2zM580 194h2v1h-2zM420 195h1v1h-1zM522 195h2v1h-2zM582 195h2v1h-2zM421 196h2v1h-2zM518 196h4v1h-4zM584 196h2v1h-2zM423 197h1v1h-1zM489 197h6v1h-6zM514 197h4v1h-4zM586 197h2v1h-2zM424 198h2v1h-2zM486 198h3v1h-3zM495 198h9v1h-9zM510 198h4v1h-4zM588 198h2v1h-2zM426 199h1v1h-1zM483 199h3v1h-3zM504 199h6v1h-6zM590 199h1v1h-1zM427 200h2v1h-2zM480 200h3v1h-3zM591 200h2v1h-2zM429 201h2v1h-2zM478 201h2v1h-2zM593 201h4v1h-4zM431 202h2v1h-2zM475 202h3v1h-3zM597 202h5v1h-5zM433 203h3v1h-3zM473 203h2v1h-2zM602 203h2v1h-2zM436 204h3v1h-3zM471 204h2v1h-2zM604 204h3v1h-3zM439 205h2v1h-2zM469 205h2v1h-2zM607 205h2v1h-2zM441 206h5v1h-5zM466 206h3v1h-3zM609 206h3v1h-3zM446 207h5v1h-5zM462 207h4v1h-4zM612 207h2v1h-2zM451 208h11v1h-11zM614 208h3v1h-3zM617 209h2v1h-2zM619 210h3v1h-3zM622 211h3v1h-3zM625 212h4v1h-4zM629 213h2v1h-2zM631 214h1v1h-1zM632 215h2v1h-2zM634 216h1v1h-1zM635 217h1v1h-1zM636 218h2v1h-2zM638 219h1v1h-1zM639 220h1v1h-1zM640 221h1v1h-1zM641 222h1v1h-1zM642 223h1v1h-1zM643 224h1v1h-1zM644 225h1v1h-1zM645 226h1v1h-1zM646 227h2v1h-2zM648 228h1v1h-1zM649 229h1v1h-1zM650 230h2v1h-2zM652 231h1v1h-1zM653 232h2v1h-2zM655 233h1v1h-1zM656 234h1v1h-1zM657 235h1v1h-1zM658 236h1v1h-1zM659 237h2v1h-2zM661 238h1v1h-1zM662 239h1v1h-1zM663 240h1v1h-1zM664 241h1v1h-1zM665 242h2v1h-2zM667 243h2v1h-2zM669 244h4v1h-4zM673 245h5v1h-5zM678 246h2v1h-2zM680 247h3v1h-3zM683 248h4v1h-4zM687 249h4v1h-4zM691 250h4v1h-4zM695 251h4v1h-4zM699 252h3v1h-3zM702 253h2v1h-2zM704 254h2v1h-2zM706 255h2v1h-2zM708 256h2v1h-2zM710 257h2v1h-2zM712 258h2v1h-2zM714 259h1v1h-1zM715 260h1v1h-1zM716 261h2v1h-2zM718 262h1v1h-1zM719 263h1v1h-1zM720 264h2v1h-2zM722 265h1v1h-1zM723 266h1v1h-1zM724 267h1v1h-1zM724 268h1v1h-1zM725 269h1v1h-1zM726 270h1v1h-1zM727 271h1v1h-1zM728 272h1v1h-1zM729 273h1v1h-1zM730 274h1v1h-1zM731 275h1v1h-1zM732 276h1v1h-1zM733 277h1v1h-1zM734 278h2v1h-2zM736 279h1v1h-1zM737 280h1v1h-1zM738 281h1v1h-1zM739 282h2v1h-2zM741 283h1v1h-1zM742 284h1v1h-1zM743 285h1v1h-1zM744 286h1v1h-1zM745 287h2v1h-2zM747 288h1v1h-1zM748 289h1v1h-1zM749 290h1v1h-1zM750 291h1v1h-1zM751 292h2v1h-2zM753 293h1v1h-1zM754 294h1v1h-1zM755 295h1v1h-1zM756 296h1v1h-1zM757 297h2v1h-2zM759 298h1v1h-1zM760 299h1v1h-1zM761 300h1v1h-1zM762 301h1v1h-1zM763 302h1v1h-1zM764 303h1v1h-1zM765 304h2v1h-2zM767 305h3v1h-3zM770 306h3v1h-3zM773 307h2v1h-2zM775 308h2v1h-2zM777 309h1v1h-1zM778 310h2v1h-2zM780 311h1v1h-1zM781 312h1v1h-1zM782 313h1v1h-1zM783 314h1v1h-1zM784 315h2v1h-2zM786 316h1v1h-1zM787 317h1v1h-1zM788 318h1v1h-1zM789 319h1v1h-1zM790 320h1v1h-1zM791 321h1v1h-1zM792 322h1v1h-1zM793 323h2v1h-2zM795 324h1v1h-1zM796 325h1v1h-1zM797 326h1v1h-1zM798 327h2v1h-2zM800 328h2v1h-2zM802 329h2v1h-2zM804 330h2v1h-2zM806 331h1v1h-1zM807 332h2v1h-2zM809 333h1v1h-1zM810 334h1v1h-1zM811 335h2v1h-2zM813 336h1v1h-1zM814 337h2v1h-2zM816 338h1v1h-1zM817 339h1v1h-1zM818 340h2v1h-2zM820 341h1v1h-1zM821 342h2v1h-2zM823 343h1v1h-1zM824 344h2v1h-2zM826 345h2v1h-2zM828 346h1v1h-1zM914 346h2v1h-2zM829 347h2v1h-2zM912 347h2v1h-2zM831 348h2v1h-2zM910 348h2v1h-2zM833 349h2v1h-2zM907 349h3v1h-3zM835 350h3v1h-3zM905 350h2v1h-2zM838 351h4v1h-4zM903 351h2v1h-2zM842 352h3v1h-3zM901 352h2v1h-2zM845 353h2v1h-2zM899 353h2v1h-2zM847 354h2v1h-2zM897 354h2v1h-2zM849 355h2v1h-2zM895 355h2v1h-2zM851 356h29v1h-29zM893 356h2v1h-2zM880 357h13v1h-13z"/>
<g shape-rendering="crispEdges">
<path fill="#32CD32" d="M20 47h1v27h-1zM28 68h1v4h-1zM36 62h1v14h-1zM44 66h1v35h-1zM60 83h1v21h-1zM84 91h1v17h-1zM92 97h1v20h-1zM100 101h1v25h-1zM108 122h1v36h-1zM116 144h1v18h-1zM172 54h1v4h-1zM180 54h1v15h-1zM188 57h1v18h-1zM204 43h1v39h-1zM212 67h1v28h-1zM228 83h1v29h-1zM252 77h1v21h-1zM260 80h1v21h-1zM268 97h1v4h-1zM276 76h1v30h-1zM292 86h1v19h-1zM300 102h1v64h-1zM332 126h1v46h-1zM340 154h1v28h-1zM348 163h1v26h-1zM356 177h1v59h-1zM364 225h1v18h-1zM372 221h1v39h-1zM396 161h1v47h-1zM404 185h1v46h-1zM452 162h1v37h-1zM460 185h1v2h-1zM468 177h1v20h-1zM484 187h1v24h-1zM500 187h1v19h-1zM540 141h1v39h-1zM548 175h1v15h-1zM564 182h1v30h-1zM572 203h1v29h-1zM580 219h1v21h-1zM588 219h1v25h-1zM604 233h1v3h-1zM612 220h1v20h-1zM620 230h1v27h-1zM636 223h1v54h-1zM644 255h1v9h-1zM652 255h1v4h-1zM660 257h1v16h-1zM684 219h1v37h-1zM692 246h1v26h-1zM708 258h1v38h-1zM716 282h1v33h-1zM724 308h1v45h-1zM732 337h1v30h-1zM748 341h1v6h-1zM756 335h1v26h-1zM780 312h1v48h-1zM796 345h1v3h-1zM812 330h1v20h-1zM820 333h1v24h-1zM828 348h1v56h-1zM844 387h1v3h-1zM868 337h1v33h-1zM884 326h1v22h-1zM892 332h1v4h-1zM916 282h1v31h-1zM18 55h5v14h-5zM26 68h5v2h-5zM34 69h5v2h-5zM42 69h5v27h-5zM58 91h5v10h-5zM82 91h5v7h-5zM90 97h5v7h-5zM98 103h5v21h-5zM106 123h5v31h-5zM114 153h5v1h-5zM170 55h5v2h-5zM178 55h5v6h-5zM186 60h5v6h-5zM202 66h5v4h-5zM210 69h5v26h-5zM226 84h5v20h-5zM250 81h5v4h-5zM258 84h5v12h-5zM266 98h5v2h-5zM274 99h5v3h-5zM290 95h5v9h-5zM298 103h5v37h-5zM330 132h5v26h-5zM338 158h5v7h-5zM346 164h5v15h-5zM354 178h5v50h-5zM362 227h5v13h-5zM370 239h5v3h-5zM394 176h5v20h-5zM402 195h5v34h-5zM450 168h5v17h-5zM458 185h5v2h-5zM466 186h5v9h-5zM482 190h5v8h-5zM498 196h5v8h-5zM538 148h5v29h-5zM546 176h5v11h-5zM562 184h5v24h-5zM570 207h5v23h-5zM578 229h5v2h-5zM586 231h5v12h-5zM602 233h5v3h-5zM610 235h5v4h-5zM618 238h5v17h-5zM634 232h5v25h-5zM642 256h5v4h-5zM650 256h5v2h-5zM658 258h5v12h-5zM682 247h5v5h-5zM690 251h5v17h-5zM706 259h5v32h-5zM714 290h5v23h-5zM722 312h5v29h-5zM730 340h5v17h-5zM746 343h5v4h-5zM754 346h5v9h-5zM778 319h5v25h-5zM794 345h5v3h-5zM810 337h5v12h-5zM818 348h5v6h-5zM826 353h5v43h-5zM842 387h5v3h-5zM866 342h5v24h-5zM882 332h5v12h-5zM890 333h5v3h-5zM914 284h5v14h-5z"/>
<path fill="#FF0000" d="M4 56h1v32h-1zM12 47h1v16h-1zM52 86h1v13h-1zM68 86h1v19h-1zM76 90h1v4h-1zM124 151h1v5h-1zM132 121h1v32h-1zM140 111h1v19h-1zM148 95h1v21h-1zM156 57h1v59h-1zM164 46h1v24h-1zM196 58h1v15h-1zM220 83h1v9h-1zM236 83h1v21h-1zM244 74h1v17h-1zM284 83h1v26h-1zM308 115h1v33h-1zM316 140h1v13h-1zM324 121h1v32h-1zM380 213h1v35h-1zM388 169h1v63h-1zM412 218h1v6h-1zM420 201h1v30h-1zM428 193h1v30h-1zM436 184h1v32h-1zM444 156h1v38h-1zM476 185h1v26h-1zM492 195h1v16h-1zM508 204h1v3h-1zM516 199h1v19h-1zM524 156h1v54h-1zM532 145h1v27h-1zM556 185h1v3h-1zM596 233h1v19h-1zM628 232h1v28h-1zM668 258h1v17h-1zM676 241h1v27h-1zM700 258h1v4h-1zM740 328h1v29h-1zM764 332h1v28h-1zM772 316h1v40h-1zM788 326h1v37h-1zM804 328h1v31h-1zM836 382h1v23h-1zM852 375h1v18h-1zM860 339h1v40h-1zM876 323h1v46h-1zM900 295h1v41h-1zM908 278h1v29h-1zM4 60h3v25h-3zM10 55h5v6h-5zM50 91h5v5h-5zM66 91h5v10h-5zM74 91h5v2h-5zM122 151h5v3h-5zM130 127h5v25h-5zM138 113h5v14h-5zM146 105h5v9h-5zM154 62h5v43h-5zM162 58h5v5h-5zM194 66h5v1h-5zM218 84h5v8h-5zM234 87h5v16h-5zM242 81h5v7h-5zM282 95h5v7h-5zM306 116h5v24h-5zM314 142h5v8h-5zM322 131h5v12h-5zM378 232h5v10h-5zM386 176h5v56h-5zM410 221h5v2h-5zM418 218h5v4h-5zM426 210h5v8h-5zM434 192h5v17h-5zM442 168h5v25h-5zM474 190h5v4h-5zM490 196h5v1h-5zM506 205h5v1h-5zM514 202h5v3h-5zM522 170h5v32h-5zM530 148h5v23h-5zM554 185h5v1h-5zM594 236h5v7h-5zM626 232h5v23h-5zM666 264h5v6h-5zM674 247h5v17h-5zM698 259h5v2h-5zM738 335h5v22h-5zM762 350h5v5h-5zM770 319h5v31h-5zM786 342h5v3h-5zM802 337h5v9h-5zM834 387h5v9h-5zM850 376h5v14h-5zM858 342h5v35h-5zM874 332h5v34h-5zM898 299h5v37h-5zM906 283h5v17h-5z"/>
<path fill="#FF4500" d="M4 61h2v23h-2zM11 56h3v4h-3zM51 92h3v3h-3zM67 92h3v8h-3zM123 152h3v1h-3zM131 128h3v23h-3zM139 114h3v12h-3zM147 106h3v7h-3zM155 63h3v41h-3zM163 59h3v3h-3zM219 85h3v6h-3zM235 88h3v14h-3zM243 82h3v5h-3zM283 96h3v5h-3zM307 117h3v22h-3zM315 143h3v6h-3zM323 132h3v10h-3zM379 233h3v8h-3zM387 177h3v54h-3zM419 219h3v2h-3zM427 211h3v6h-3zM435 193h3v15h-3zM443 169h3v23h-3zM475 191h3v2h-3zM515 203h3v1h-3zM523 171h3v30h-3zM531 149h3v21h-3zM595 237h3v5h-3zM627 233h3v21h-3zM667 265h3v4h-3zM675 248h3v15h-3zM739 336h3v20h-3zM763 351h3v3h-3zM771 320h3v29h-3zM787 343h3v1h-3zM803 338h3v7h-3zM835 388h3v7h-3zM851 377h3v12h-3zM859 343h3v33h-3zM875 333h3v32h-3zM899 300h3v35h-3zM907 284h3v15h-3z"/>
</g>
<text class="s" x="1172.6" y="52" textLength="32.5" lengthAdjust="spacingAndGlyphs">1.14780</text>
<text class="s" x="1172.6" y="85" textLength="32.5" lengthAdjust="spacingAndGlyphs">1.13730</text>
<text class="s" x="1172.6" y="118" textLength="32.5" lengthAdjust="spacingAndGlyphs">1.12680</text>
<text class="s" x="1172.6" y="151" textLength="32.5" lengthAdjust="spacingAndGlyphs">1.11630</text>
<text class="s" x="1172.6" y="184" textLength="32.5" lengthAdjust="spacingAndGlyphs">1.10580</text>
<text class="s" x="1172.6" y="217" textLength="32.5" lengthAdjust="spacingAndGlyphs">1.09560</text>
<text class="s" x="1172.6" y="250" textLength="32.5" lengthAdjust="spacingAndGlyphs">1.08510</text>
<text class="s" x="1172.6" y="283" textLength="32.5" lengthAdjust="spacingAndGlyphs">1.07460</text>
<text class="s" x="1172.6" y="316" textLength="32.5" lengthAdjust="spacingAndGlyphs">1.06410</text>
<text class="s" x="1172.6" y="349" textLength="32.5" lengthAdjust="spacingAndGlyphs">1.05360</text>
<text class="s" x="1172.6" y="382" textLength="32.5" lengthAdjust="spacingAndGlyphs">1.04310</text>
<text class="s" x="1172.6" y="415" textLength="32.5" lengthAdjust="spacingAndGlyphs">1.03290</text>
<text class="s" x="1170.4" y="427" textLength="39.5" lengthAdjust="spacingAndGlyphs">0.003408</text>
<text class="s" x="1170.4" y="437" textLength="18" lengthAdjust="spacingAndGlyphs">0.00</text>
<text class="s" x="1170.4" y="485" textLength="42.6" lengthAdjust="spacingAndGlyphs">-0.012058</text>
<text class="s" x="1170.4" y="501" textLength="14.7" lengthAdjust="spacingAndGlyphs">100</text>
<text class="s" x="1170.4" y="517" textLength="9.8" lengthAdjust="spacingAndGlyphs">70</text>
<text class="s" x="1170.4" y="546" textLength="9.8" lengthAdjust="spacingAndGlyphs">30</text>
<text class="s" x="1170.4" y="561" textLength="4.9" lengthAdjust="spacingAndGlyphs">0</text>
<g shape-rendering="crispEdges">
<rect x="1168" y="148" width="40" height="11" fill="#FF0000"/>
<rect x="1168" y="206" width="40" height="11" fill="#FF0000"/>
<rect x="1168" y="255" width="40" height="11" fill="#00FF00"/>
<rect x="1168" y="310" width="40" height="11" fill="#0000FF"/>
<rect x="1168" y="365" width="40" height="11" fill="#0000FF"/>
<rect x="1168" y="292" width="40" height="11" fill="#000000"/>
</g>
<text class="s" x="1172.6" y="157" textLength="32.5" lengthAdjust="spacingAndGlyphs" style="fill:#ffffff;stroke:#ffffff">1.11422</text>
<text class="s" x="1172.6" y="215" textLength="32.5" lengthAdjust="spacingAndGlyphs" style="fill:#ffffff;stroke:#ffffff">1.09596</text>
<text class="s" x="1172.6" y="264" textLength="32.5" lengthAdjust="spacingAndGlyphs" style="fill:#ffffff;stroke:#ffffff">1.08044</text>
<text class="s" x="1172.6" y="319" textLength="32.5" lengthAdjust="spacingAndGlyphs" style="fill:#ffffff;stroke:#ffffff">1.06297</text>
<text class="s" x="1172.6" y="374" textLength="32.5" lengthAdjust="spacingAndGlyphs" style="fill:#ffffff;stroke:#ffffff">1.04562</text>
<text class="s" x="1172.6" y="301" textLength="32.5" lengthAdjust="spacingAndGlyphs" style="fill:#ffffff;stroke:#ffffff">1.06899</text>
<path d="M6.9 30h7.6l-3.8 4.2z" fill="#000"/>
<text class="s" x="19.4" y="35" textLength="66.3" lengthAdjust="spacingAndGlyphs">EURUSD-,Daily</text>
<text class="s" x="92.8" y="35" textLength="139.7" lengthAdjust="spacingAndGlyphs">1.07315 1.07358 1.06412 1.06899</text>
<text class="s" x="8.5" y="429" textLength="152.9" lengthAdjust="spacingAndGlyphs">MACD(12,26,9) -0.000927 -0.005912</text>
<text class="s" x="8" y="503" textLength="68" lengthAdjust="spacingAndGlyphs">RSI(14) 56.1239</text>
<text class="s" x="3.6" y="577" textLength="48.7" lengthAdjust="spacingAndGlyphs">12 Jan 2022</text>
<text class="s" x="67.6" y="577" textLength="48.7" lengthAdjust="spacingAndGlyphs">21 Jan 2022</text>
<text class="s" x="131.6" y="577" textLength="48.7" lengthAdjust="spacingAndGlyphs">31 Jan 2022</text>
<text class="s" x="195.6" y="577" textLength="46.2" lengthAdjust="spacingAndGlyphs">9 Feb 2022</text>
<text class="s" x="259.6" y="577" textLength="50.7" lengthAdjust="spacingAndGlyphs">18 Feb 2022</text>
<text class="s" x="323.6" y="577" textLength="50.7" lengthAdjust="spacingAndGlyphs">28 Feb 2022</text>
<text class="s" x="387.6" y="577" textLength="46.8" lengthAdjust="spacingAndGlyphs">9 Mar 2022</text>
<text class="s" x="451.6" y="577" textLength="51.3" lengthAdjust="spacingAndGlyphs">18 Mar 2022</text>
<text class="s" x="515.6" y="577" textLength="51.3" lengthAdjust="spacingAndGlyphs">28 Mar 2022</text>
<text class="s" x="579.6" y="577" textLength="45.2" lengthAdjust="spacingAndGlyphs">6 Apr 2022</text>
<text class="s" x="643.6" y="577" textLength="49.6" lengthAdjust="spacingAndGlyphs">15 Apr 2022</text>
<text class="s" x="707.6" y="577" textLength="49.6" lengthAdjust="spacingAndGlyphs">25 Apr 2022</text>
<text class="s" x="771.6" y="577" textLength="49.2" lengthAdjust="spacingAndGlyphs">4 May 2022</text>
<text class="s" x="835.6" y="577" textLength="54.2" lengthAdjust="spacingAndGlyphs">13 May 2022</text>
<text class="s" x="899.6" y="577" textLength="54.4" lengthAdjust="spacingAndGlyphs">23 May 2022</text>
<text class="tb" x="1" y="10.8" textLength="4.5" lengthAdjust="spacingAndGlyphs">5</text>
<text class="tb" x="16" y="10.8" textLength="17" lengthAdjust="spacingAndGlyphs">M30</text>
<text class="tb" x="46" y="10.8" textLength="12" lengthAdjust="spacingAndGlyphs">H1</text>
<text class="tb" x="74" y="10.8" textLength="12" lengthAdjust="spacingAndGlyphs">H4</text>
<text class="tb" x="102.8" y="10.8" textLength="11.4" lengthAdjust="spacingAndGlyphs">D1</text>
<text class="tb" x="130.3" y="10.8" textLength="14" lengthAdjust="spacingAndGlyphs">W1</text>
<text class="tb" x="156.9" y="10.8" textLength="14.2" lengthAdjust="spacingAndGlyphs">MN</text>
<g shape-rendering="crispEdges">
<rect x="105" y="587" width="108" height="19" fill="#ffffff"/>
<rect x="0" y="587" width="105" height="1" fill="#000"/>
<rect x="213" y="587" width="995" height="1" fill="#000"/>
<rect x="105" y="587" width="1" height="19" fill="#000"/>
<rect x="212" y="587" width="1" height="19" fill="#000"/>
<rect x="105" y="605" width="108" height="1" fill="#000"/>
<rect x="0" y="587" width="1" height="19" fill="#696969"/>
<rect x="321" y="590" width="1" height="14" fill="#7a7a7a"/>
<rect x="429" y="590" width="1" height="14" fill="#7a7a7a"/>
<rect x="537" y="590" width="1" height="14" fill="#7a7a7a"/>
<rect x="649" y="590" width="1" height="14" fill="#7a7a7a"/>
<rect x="773" y="590" width="1" height="14" fill="#7a7a7a"/>
<rect x="865" y="590" width="1" height="14" fill="#7a7a7a"/>
<rect x="965" y="590" width="1" height="14" fill="#7a7a7a"/>
<rect x="1049" y="590" width="1" height="14" fill="#7a7a7a"/>
<rect x="1141" y="590" width="1" height="14" fill="#7a7a7a"/>
</g>
<text class="t" x="16.5" y="602" textLength="77.5" lengthAdjust="spacingAndGlyphs">USDX,Weekly</text>
<text class="t" x="116.5" y="602" textLength="84" lengthAdjust="spacingAndGlyphs" style="fill:#000;stroke:#000">EURUSD-,Daily</text>
<text class="t" x="222.7" y="602" textLength="87" lengthAdjust="spacingAndGlyphs">AUDUSD-,Daily</text>
<text class="t" x="333" y="602" textLength="83.7" lengthAdjust="spacingAndGlyphs">USDCHF-,Daily</text>
<text class="t" x="440" y="602" textLength="86" lengthAdjust="spacingAndGlyphs">USDCAD-,Daily</text>
<text class="t" x="549.4" y="602" textLength="87.6" lengthAdjust="spacingAndGlyphs">USDCNH-,Daily</text>
<text class="t" x="661" y="602" textLength="99.8" lengthAdjust="spacingAndGlyphs">XAUUSD-,Weekly</text>
<text class="t" x="784" y="602" textLength="68.8" lengthAdjust="spacingAndGlyphs">UKOil-,Daily</text>
<text class="t" x="876.6" y="602" textLength="77.2" lengthAdjust="spacingAndGlyphs">DJ30-,Weekly</text>
<text class="t" x="976" y="602" textLength="61.4" lengthAdjust="spacingAndGlyphs">UK100-,H1</text>
<text class="t" x="1060.9" y="602" textLength="67.5" lengthAdjust="spacingAndGlyphs">USOil-,Daily</text>
<text class="t" x="1151.8" y="602" textLength="29.6" lengthAdjust="spacingAndGlyphs">HK50</text>
<rect x="1173" y="588" width="1" height="18" fill="#f0f0f0" fill-opacity="0.2"/>
<rect x="1174" y="588" width="1" height="18" fill="#f0f0f0" fill-opacity="0.45"/>
<rect x="1175" y="588" width="1" height="18" fill="#f0f0f0" fill-opacity="0.7"/>
<rect x="1176" y="588" width="1" height="18" fill="#f0f0f0" fill-opacity="0.9"/>
<rect x="1177" y="588" width="31" height="18" fill="#f0f0f0"/>
<path d="M1185.2 592.8v6.6l-3.5-3.3z" fill="#9a9a9a"/>
<path d="M1200.6 592.8v6.6l3.6-3.3z" fill="#000"/>
</svg>
</body></html>
